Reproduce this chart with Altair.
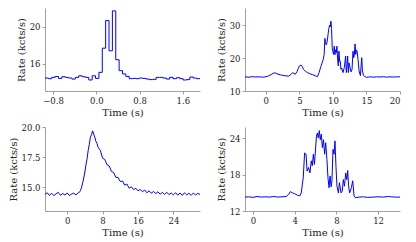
import altair as alt
import pandas as pd

# ---- Panel A (top-left): binned step light curve ----
a_start = -0.949
a_bin = 0.0623
a_rates = [14.49, 14.42, 14.56, 14.66, 14.45, 14.63, 14.56, 14.49, 14.38, 14.56,
           14.73, 14.63, 14.56, 14.28, 14.73, 14.45, 15.10, 17.69, 20.65, 17.41,
           21.69, 16.45, 15.28, 14.93, 14.66, 14.42, 14.45, 14.42, 14.49, 14.45,
           14.38, 14.32, 14.35, 14.56, 14.56, 14.49, 14.38, 14.56, 14.42, 14.53,
           14.42, 14.28, 14.32, 14.60, 14.49, 14.42]

# ---- Panel B (top-right) ----
b_t = [-3.1, -2.5, -2.0, -1.5, -1.0, -0.5, 0.0, 0.4, 0.8, 1.1, 1.4, 1.8, 2.2, 2.6, 3.0,
       3.4, 3.8, 4.0, 4.2, 4.4, 4.65, 4.85, 5.0, 5.25, 5.45, 5.6, 5.9, 6.2, 6.6, 7.0,
       7.4, 7.7, 7.94, 8.2, 8.4, 8.55, 8.7, 8.8, 8.9, 9.0, 9.15, 9.3, 9.4, 9.5, 9.6,
       9.7, 9.8, 9.9, 10.0, 10.1, 10.2, 10.3, 10.4, 10.5, 10.6, 10.7, 10.8, 10.9, 11.0,
       11.1, 11.2, 11.3, 11.5, 11.7, 11.9, 12.0, 12.1, 12.2, 12.3, 12.4, 12.5, 12.7,
       12.85, 13.0, 13.1, 13.2, 13.3, 13.4, 13.5, 13.6, 13.75, 13.9, 14.1, 14.2, 14.3,
       14.4, 14.55, 14.7, 15.0, 15.5, 16.0, 16.5, 17.0, 17.5, 18.0, 18.5, 19.0, 19.5, 20.0]
b_r = [14.3, 14.2, 14.35, 14.25, 14.3, 14.2, 14.3, 14.6, 15.0, 15.4, 15.5, 15.1, 14.9,
       14.7, 14.6, 14.5, 15.1, 15.6, 15.3, 15.1, 15.9, 16.9, 17.6, 17.9, 17.4, 16.6,
       16.0, 15.6, 15.2, 14.95, 14.6, 14.35, 15.6, 17.4, 18.6, 19.5, 21.1, 26.0, 25.0,
       24.0, 25.0, 27.5, 29.0, 30.0, 29.5, 31.2, 29.0, 23.1, 22.0, 21.1, 23.6, 21.0,
       22.5, 21.6, 23.6, 20.0, 17.6, 22.1, 19.0, 19.1, 16.6, 17.0, 15.6, 17.1, 20.6,
       15.6, 17.5, 20.6, 15.6, 18.5, 17.6, 15.8, 16.5, 22.1, 20.1, 21.0, 24.3, 21.1,
       22.5, 22.1, 19.5, 16.1, 14.65, 17.5, 20.1, 16.1, 14.8, 14.45, 14.15, 14.3, 14.2,
       14.3, 14.25, 14.35, 14.2, 14.3, 14.25, 14.3, 14.3]

# ---- Panel C (bottom-left) ----
c_t = [-5.0, -4.5, -4.0, -3.5, -3.0, -2.5, -2.0, -1.5, -1.0, -0.5, 0.0, 0.5, 1.0, 1.5,
       2.0, 2.5,
       2.75, 3.0, 3.25, 3.5, 3.75, 4.0, 4.25, 4.5, 4.75, 5.0, 5.25, 5.5, 5.75, 6.0,
       6.25, 6.5, 6.75, 7.0,
       7.5, 8.0, 8.5, 9.0, 9.5, 10.0, 10.5, 11.0, 11.5, 12.0, 12.5, 13.0, 13.5, 14.0,
       14.5, 15.0, 15.5, 16.0, 16.5, 17.0, 17.5, 18.0, 18.5, 19.0, 19.5, 20.0, 20.5,
       21.0, 21.5, 22.0, 22.5, 23.0, 23.5, 24.0, 24.5, 25.0, 25.5, 26.0, 26.5, 27.0,
       27.5, 28.0, 28.5, 29.0, 29.5, 30.0]
c_r = [14.38, 14.52, 14.30, 14.47, 14.28, 14.44, 14.55, 14.31, 14.46, 14.33, 14.50,
       14.29, 14.42, 14.48, 14.34, 14.52,
       14.55, 14.70, 14.95, 15.35, 15.75, 16.25, 16.85, 17.35, 18.05, 18.55, 19.15,
       19.35, 19.68, 19.40, 19.15, 18.80, 18.62, 18.30,
       18.05, 17.40, 17.30, 16.85, 16.75, 16.30, 16.20, 15.80, 15.80, 15.45, 15.50,
       15.15, 15.25, 14.90, 15.02, 14.78, 14.90, 14.68, 14.80, 14.60, 14.75, 14.52,
       14.68, 14.48, 14.63, 14.45, 14.60, 14.40, 14.55, 14.38, 14.56, 14.36, 14.50,
       14.35, 14.52, 14.32, 14.50, 14.30, 14.52, 14.34, 14.48, 14.30, 14.50, 14.33,
       14.47, 14.38]

# ---- Panel D (bottom-right) ----
d_t = [-0.75, -0.4, 0.0, 0.4, 0.8, 1.2, 1.6, 2.0, 2.4, 2.8, 3.2, 3.45, 3.6, 3.8, 4.0,
       4.3, 4.5, 4.64, 4.83, 4.96, 5.1, 5.2, 5.34, 5.47, 5.6, 5.7, 5.8, 5.9, 6.1, 6.18,
       6.27, 6.37, 6.46, 6.56, 6.66, 6.77, 6.88, 6.98, 7.1, 7.2, 7.3, 7.4, 7.5, 7.58,
       7.68, 7.78, 7.87, 7.97, 8.06, 8.2, 8.3, 8.45, 8.57, 8.67, 8.78, 8.9, 9.0, 9.09,
       9.18, 9.28, 9.44, 9.57, 9.7, 9.82, 10.2, 10.6, 11.0, 11.5, 12.0, 12.5, 13.0,
       13.3, 13.6, 14.1]
d_r = [14.3, 14.35, 14.25, 14.4, 14.3, 14.35, 14.3, 14.4, 14.3, 14.35, 14.4, 14.8, 15.2,
       15.0, 14.86, 14.6, 14.5, 15.0, 17.5, 21.6, 21.4, 18.6, 19.2, 18.3, 20.3, 19.5,
       21.4, 19.7, 24.4, 24.9, 24.1, 25.3, 23.8, 24.7, 22.5, 23.8, 21.4, 23.3, 20.5,
       17.5, 15.85, 17.8, 16.0, 17.0, 22.2, 21.4, 23.6, 19.2, 16.1, 15.0, 16.7, 15.0,
       15.3, 17.2, 16.1, 18.3, 17.2, 18.7, 16.0, 15.0, 15.85, 17.0, 14.5, 14.2, 14.3,
       14.35, 14.25, 14.3, 14.35, 14.3, 14.4, 14.35, 14.3, 14.3]

a_edges = [a_start + i * a_bin for i in range(len(a_rates) + 1)]
df_a = pd.DataFrame({"t": a_edges, "r": a_rates + [a_rates[-1]]})
df_b = pd.DataFrame({"t": b_t, "r": b_r})
df_c = pd.DataFrame({"t": c_t, "r": c_r})
df_d = pd.DataFrame({"t": d_t, "r": d_r})

W = 155


def panel(df, xdom, ydom, xticks, yticks, xfmt, yfmt, h, step=False):
    return alt.Chart(df).mark_line(
        color="#0000ff", strokeWidth=1, clip=True,
        interpolate="step-after" if step else "linear",
    ).encode(
        x=alt.X("t:Q", scale=alt.Scale(domain=xdom, nice=False, zero=False),
                axis=alt.Axis(values=xticks, format=xfmt, title="Time (s)")),
        y=alt.Y("r:Q", scale=alt.Scale(domain=ydom, nice=False, zero=False),
                axis=alt.Axis(values=yticks, format=yfmt, title="Rate (kcts/s)")),
    ).properties(width=W, height=h)


pa = panel(df_a, [-0.949, 1.917], [13.1, 22.0], [-0.8, 0.0, 0.8, 1.6], [16, 20], ".1f", "d", 83, step=True)
pb = panel(df_b, [-3.1, 20.0], [10, 35.2], [0, 5, 10, 15, 20], [10, 20, 30], "d", "d", 83)
pc = panel(df_c, [-5.0, 30.0], [13.0, 20.0], [0, 8, 16, 24], [15.0, 17.5, 20.0], "d", ".1f", 84)
pd_ = panel(df_d, [-0.75, 14.1], [12.0, 25.9], [0, 4, 8, 12], [12, 18, 24], "d", "d", 84)

chart = alt.concat(
    pa, pb, pc, pd_, columns=2, spacing={"row": 36, "column": 45}, bounds="flush"
).properties(
    padding={"left": 0, "top": 0, "right": 0, "bottom": 0}
).configure_view(
    stroke=None
).configure_axis(
    grid=False,
    domainColor="#a0a0a0",
    tickColor="#a0a0a0",
    tickSize=3,
    labelFont="DejaVu Serif",
    titleFont="DejaVu Serif",
    labelFontSize=8.5,
    titleFontSize=10,
    titleFontWeight="normal",
    labelColor="#222222",
    titleColor="#222222",
    labelPadding=2,
    titlePadding=3,
)

chart.save("out.html", embed_options={"renderer": "svg", "actions": False})
